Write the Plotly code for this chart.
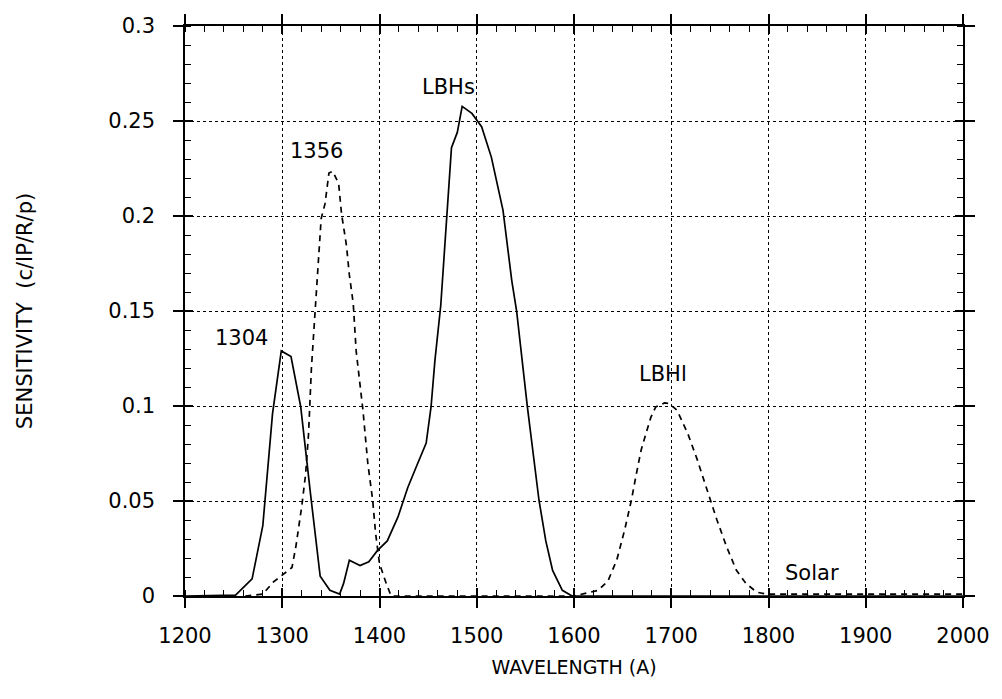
import plotly.graph_objects as go

# Solid curve (1304 + LBHs)
solid_x = [1200, 1252, 1269, 1280, 1290, 1299, 1309, 1319, 1329, 1339, 1349, 1359, 1363, 1369, 1380, 1389, 1398, 1408, 1419, 1429, 1437, 1448, 1453, 1457, 1463, 1469, 1474, 1480, 1485, 1495, 1505, 1515, 1527, 1536, 1541, 1552, 1564, 1571, 1578, 1588, 1598, 2000]
solid_y = [0, 0.0005, 0.009, 0.037, 0.096, 0.129, 0.126, 0.0995, 0.054, 0.0104, 0.003, 0.001, 0.0065, 0.0188, 0.016, 0.018, 0.024, 0.029, 0.0416, 0.057, 0.067, 0.0805, 0.0995, 0.124, 0.153, 0.1995, 0.236, 0.244, 0.2577, 0.254, 0.247, 0.231, 0.203, 0.166, 0.150, 0.0998, 0.0504, 0.029, 0.0135, 0.003, 0, 0]

# Dashed curve (1356, LBHl, Solar)
dash_x = [1262, 1280, 1291, 1310, 1314, 1320, 1324, 1327, 1330, 1334, 1340, 1344, 1346, 1348, 1352, 1358, 1361, 1366, 1369, 1371, 1373, 1376, 1383, 1388, 1393, 1396, 1400, 1407, 1412, 1600, 1625, 1635, 1644, 1652, 1659, 1664, 1669, 1674, 1679, 1684, 1693, 1698, 1706, 1717, 1727, 1737, 1747, 1757, 1767, 1777, 1788, 1798, 2000]
dash_y = [0, 0.001, 0.0074, 0.015, 0.026, 0.047, 0.064, 0.085, 0.12, 0.15, 0.1986, 0.2065, 0.215, 0.2226, 0.2235, 0.217, 0.201, 0.1846, 0.169, 0.161, 0.154, 0.129, 0.0977, 0.0697, 0.0504, 0.033, 0.017, 0.0065, 0, 0, 0.003, 0.008, 0.019, 0.0346, 0.0504, 0.064, 0.0767, 0.0855, 0.094, 0.0995, 0.1016, 0.1013, 0.0977, 0.0855, 0.0714, 0.0556, 0.04, 0.0258, 0.0135, 0.0065, 0.002, 0.001, 0.001]

label_text = ["1304", "1356", "LBHs", "LBHl", "Solar"]
label_x = [1258, 1335, 1471, 1692, 1845]
label_y = [0.136, 0.234, 0.268, 0.117, 0.012]

x_ticks = [1200, 1300, 1400, 1500, 1600, 1700, 1800, 1900, 2000]
y_ticks = [0, 0.05, 0.1, 0.15, 0.2, 0.25, 0.3]
y_tick_text = ["0", "0.05", "0.1", "0.15", "0.2", "0.25", "0.3"]

FONT = "DejaVu Sans"

fig = go.Figure()
fig.add_trace(go.Scatter(x=solid_x, y=solid_y, mode="lines",
                         line=dict(color="black", width=1.7), showlegend=False,
                         xaxis="x", yaxis="y"))
fig.add_trace(go.Scatter(x=dash_x, y=dash_y, mode="lines",
                         line=dict(color="black", width=1.7, dash="6px,5px"), showlegend=False,
                         xaxis="x2", yaxis="y2"))

for t, x, y in zip(label_text, label_x, label_y):
    fig.add_annotation(x=x, y=y, text=t, showarrow=False, xref="x", yref="y",
                       font=dict(family=FONT, size=21, color="black"))

common_x = dict(range=[1200, 2000], tickvals=x_ticks, zeroline=False)
common_y = dict(range=[0, 0.3], tickvals=y_ticks, zeroline=False)

fig.update_layout(
    width=1002, height=699,
    margin=dict(l=185, r=30, t=26, b=103),
    paper_bgcolor="white", plot_bgcolor="white",
    font=dict(family=FONT, color="black"),
    xaxis=dict(**common_x, ticks="outside", ticklen=10, tickwidth=1.5, tickcolor="black",
               showline=True, linecolor="black", linewidth=1.5, mirror="ticks",
               showgrid=True, gridcolor="black", gridwidth=1, griddash="dot",
               tickfont=dict(family=FONT, size=21), ticktext=[str(v) for v in x_ticks],
               ticklabelstandoff=10,
               title=dict(text="WAVELENGTH (A)", font=dict(family=FONT, size=19), standoff=14),
               minor=dict(ticks="inside", ticklen=6, dtick=20, tickcolor="black", tickwidth=1, showgrid=False)),
    yaxis=dict(**common_y, ticks="outside", ticklen=10, tickwidth=1.5, tickcolor="black",
               showline=True, linecolor="black", linewidth=1.5, mirror="ticks",
               showgrid=True, gridcolor="black", gridwidth=1, griddash="dot",
               tickfont=dict(family=FONT, size=21), ticktext=y_tick_text,
               ticklabelstandoff=14,
               title=dict(text="SENSITIVITY  (c/IP/R/p)", font=dict(family=FONT, size=21), standoff=70),
               minor=dict(ticks="inside", ticklen=6, dtick=0.01, tickcolor="black", tickwidth=1, showgrid=False)),
    xaxis2=dict(**common_x, overlaying="x", anchor="y2", side="bottom", ticks="inside", ticklen=8,
                tickwidth=1.5, tickcolor="black", mirror="ticks", showline=False,
                showgrid=False, showticklabels=False),
    yaxis2=dict(**common_y, overlaying="y", anchor="x2", side="left", ticks="inside", ticklen=8,
                tickwidth=1.5, tickcolor="black", mirror="ticks", showline=False,
                showgrid=False, showticklabels=False),
)

fig.write_html("out.html")
